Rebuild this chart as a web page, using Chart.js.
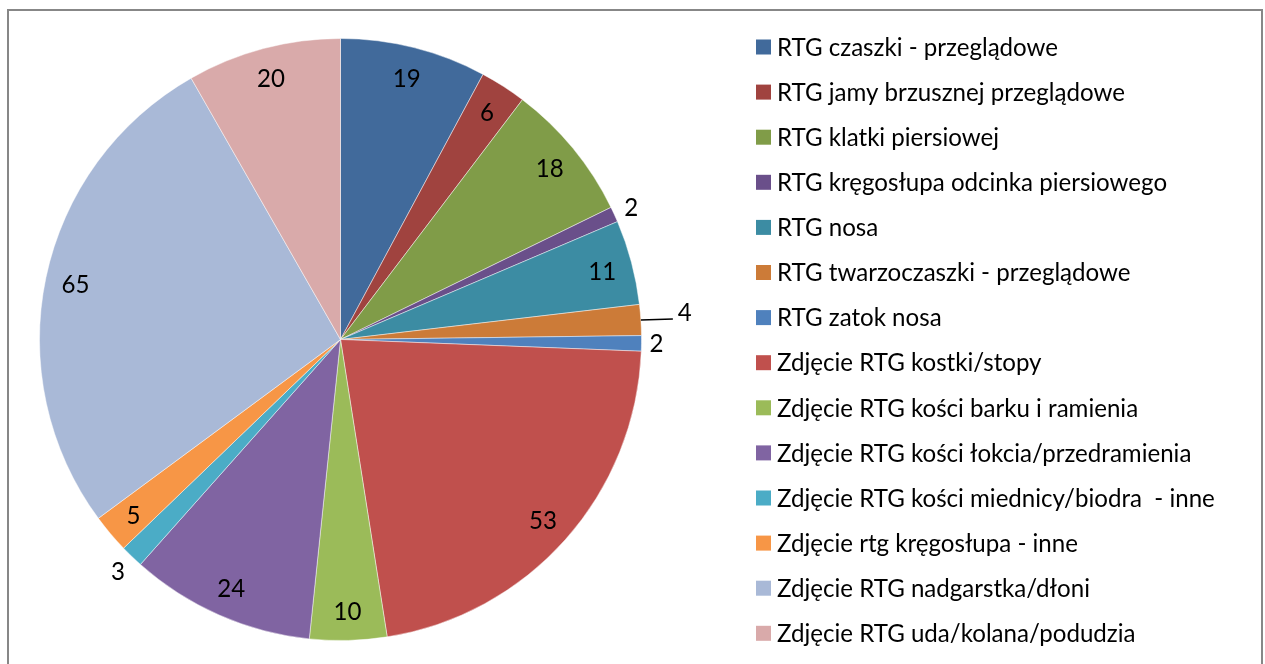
<!DOCTYPE html>
<html>
<head>
<meta charset="utf-8">
<script src="https://cdn.jsdelivr.net/npm/chart.js@4.4.0/dist/chart.umd.min.js"></script>
<style>
html, body { margin: 0; padding: 0; background: #fff; overflow: hidden; }
#ramka { position: absolute; left: 7px; top: 9px; width: 1252px; height: 700px; border: 2px solid #878787; }
#wrap { position: absolute; left: 0; top: 0; width: 1265px; height: 664px; }
</style>
</head>
<body>
<div id="ramka"></div>
<div id="wrap"><canvas id="wykres"></canvas></div>
<script>
// badania RTG - liczba zdjęć
var etykiety = [
    "RTG czaszki - przeglądowe",
    "RTG jamy brzusznej przeglądowe",
    "RTG klatki piersiowej",
    "RTG kręgosłupa odcinka piersiowego",
    "RTG nosa",
    "RTG twarzoczaszki - przeglądowe",
    "RTG zatok nosa",
    "Zdjęcie RTG kostki/stopy",
    "Zdjęcie RTG kości barku i ramienia",
    "Zdjęcie RTG kości łokcia/przedramienia",
    "Zdjęcie RTG kości miednicy/biodra  - inne",
    "Zdjęcie rtg kręgosłupa - inne",
    "Zdjęcie RTG nadgarstka/dłoni",
    "Zdjęcie RTG uda/kolana/podudzia"
];
var wartosci = [19, 6, 18, 2, 11, 4, 2, 53, 10, 24, 3, 5, 65, 20];
var kolory = [
    "#416A9B", "#A0433F", "#809C48", "#6A4F8A", "#3C8CA3", "#CC7B38", "#4F81BD",
    "#C0504D", "#9BBB59", "#8064A2", "#4BACC6", "#F79646", "#A9B9D7", "#D9AAAA"
];

var czcionka = "Lato";

// dobór rozmiaru czcionki tak, by najdłuższy opis legendy miał ~438 px
function rozmiarCzcionki() {
    var c = document.createElement("canvas").getContext("2d");
    c.font = "20px " + czcionka;
    var w = c.measureText("Zdjęcie RTG kości miednicy/biodra  - inne").width;
    return 20 * 438 / w;
}
var fs = rozmiarCzcionki();

// etykiety wartości na wycinkach
var etykietyDanych = {
    id: "etykietyDanych",
    afterDatasetsDraw: function(chart) {
        var ctx = chart.ctx;
        var meta = chart.getDatasetMeta(0);
        ctx.save();
        ctx.font = fs + "px " + czcionka;
        ctx.fillStyle = "#000";
        ctx.textBaseline = "middle";
        meta.data.forEach(function(arc, i) {
            var p = arc.getProps(["x", "y", "startAngle", "endAngle", "outerRadius"], true);
            var kat = (p.startAngle + p.endAngle) / 2;
            var v = wartosci[i];
            var cos = Math.cos(kat), sin = Math.sin(kat);
            if (v >= 5) {
                var r = p.outerRadius * 0.9;
                ctx.textAlign = "center";
                ctx.fillText(v, p.x + r * cos, p.y + r * sin + 2);
            } else if (i === 5) {
                // linia odniesienia
                var x0 = p.x + p.outerRadius * cos, y0 = p.y + p.outerRadius * sin;
                ctx.strokeStyle = "#000";
                ctx.lineWidth = 1.5;
                ctx.beginPath();
                ctx.moveTo(x0, y0);
                ctx.lineTo(x0 + 32, y0 - 1);
                ctx.stroke();
                ctx.textAlign = "left";
                ctx.fillText(v, x0 + 37, y0 - 7);
            } else {
                // na zewnątrz: odstęp od krawędzi do ramki tekstu
                var w = ctx.measureText(String(v)).width;
                var r2 = p.outerRadius + 8 + Math.abs(cos) * w / 2 + Math.abs(sin) * 10;
                ctx.textAlign = "center";
                ctx.fillText(v, p.x + r2 * cos, p.y + r2 * sin + 1);
            }
        });
        ctx.restore();
    }
};

// legenda po prawej stronie
var legenda = {
    id: "legenda",
    afterDraw: function(chart) {
        var ctx = chart.ctx;
        ctx.save();
        ctx.font = fs + "px " + czcionka;
        ctx.textBaseline = "middle";
        ctx.textAlign = "left";
        etykiety.forEach(function(t, i) {
            var y = 47 + i * 45.1;
            ctx.fillStyle = kolory[i];
            ctx.fillRect(756, y - 7.5, 15, 15);
            ctx.fillStyle = "#000";
            ctx.fillText(t, 777, y + 1);
        });
        ctx.restore();
    }
};

new Chart(document.getElementById("wykres"), {
    type: "pie",
    data: {
        labels: etykiety,
        datasets: [{
            data: wartosci,
            backgroundColor: kolory,
            borderColor: "rgba(255,255,255,0.45)",
            borderWidth: 1,
            hoverOffset: 0
        }]
    },
    options: {
        responsive: true,
        maintainAspectRatio: false,
        animation: false,
        layout: { padding: { left: 39, right: 623, top: 38, bottom: 23 } },
        plugins: {
            legend: { display: false },
            tooltip: { enabled: false }
        }
    },
    plugins: [etykietyDanych, legenda]
});
</script>
</body>
</html>
